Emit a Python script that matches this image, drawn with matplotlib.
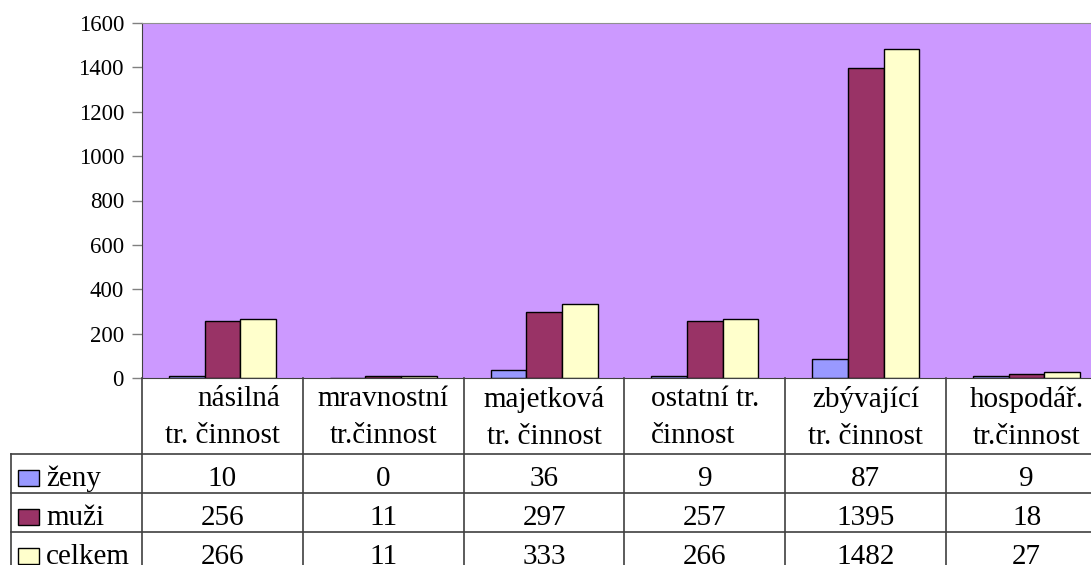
import matplotlib
matplotlib.use("Agg")
import matplotlib.pyplot as plt
import matplotlib.transforms as mtransforms
from matplotlib.lines import Line2D
from matplotlib.patches import Rectangle
import numpy as np

# data
categories = ["násilná\ntr. činnost", "mravnostní\ntr.činnost", "majetková\ntr. činnost",
              "ostatní tr.\nčinnost", "zbývající\ntr. činnost", "hospodář.\ntr.činnost"]
series_names = ["ženy", "muži", "celkem"]
zeny = [10, 0, 36, 9, 87, 9]
muzi = [256, 11, 297, 257, 1395, 18]
celkem = [266, 11, 333, 266, 1482, 27]
yticks = [0, 200, 400, 600, 800, 1000, 1200, 1400, 1600]

colors = ["#9999FF", "#993366", "#FFFFCC"]
header_align = ["right", "center", "center", "left", "center", "center"]

plt.rcParams['font.family'] = ['Liberation Serif', 'DejaVu Serif']

W, H = 1091, 565
fig = plt.figure(figsize=(W / 100, H / 100), dpi=100)

def fx(px):
    return px / W

def fy(py):
    return 1 - py / H

ax = fig.add_axes([fx(142), fy(378), (1107 - 142) / W, (378 - 23) / H])
ax.set_facecolor("#CC99FF")

x = np.arange(len(categories))
bw = 0.222
for k, vals in enumerate([zeny, muzi, celkem]):
    ax.bar(x + (k - 1) * bw, vals, width=bw, color=colors[k],
           edgecolor="black", linewidth=1.0, zorder=2)

ax.set_xlim(-0.5, len(categories) - 0.5)
ax.set_ylim(0, 1600)
ax.set_yticks(yticks)
ax.set_xticks([])
ax.tick_params(axis="y", direction="out", length=7, width=1, color="#808080",
               labelsize=16.5, pad=6)
for s in ["left", "bottom"]:
    ax.spines[s].set_color("#404040")
for s in ["top", "right"]:
    ax.spines[s].set_color("#909090")

# data table under the chart
bt = mtransforms.blended_transform_factory(ax.transData, fig.transFigure)
lc = "#404040"
for i in range(len(categories) + 1):
    fig.add_artist(Line2D([i - 0.5, i - 0.5], [fy(378), 0], transform=bt,
                          color=lc, lw=1.2))
for py in [454, 493, 532]:
    fig.add_artist(Line2D([fx(11), 1.0], [fy(py), fy(py)], transform=fig.transFigure,
                          color=lc, lw=1.2))
fig.add_artist(Line2D([fx(11), fx(11)], [fy(454), 0], transform=fig.transFigure,
                      color=lc, lw=1.2))

for i, lab in enumerate(categories):
    fig.text(i, fy(386), lab, transform=bt, ha="center", va="top",
             multialignment=header_align[i], fontsize=21, linespacing=1.55)

baselines = [486, 525, 564]
for r, (name, vals) in enumerate(zip(series_names, [zeny, muzi, celkem])):
    b = baselines[r]
    fig.add_artist(Rectangle((fx(18), fy(b)), 21 / W, 16 / H, transform=fig.transFigure,
                             facecolor=colors[r], edgecolor="black", lw=1))
    fig.text(fx(46), fy(b), name, ha="left", va="baseline", fontsize=21)
    for i, v in enumerate(vals):
        fig.text(i, fy(b), str(v), transform=bt, ha="center", va="baseline", fontsize=21)

fig.savefig("out.png", dpi=100)
